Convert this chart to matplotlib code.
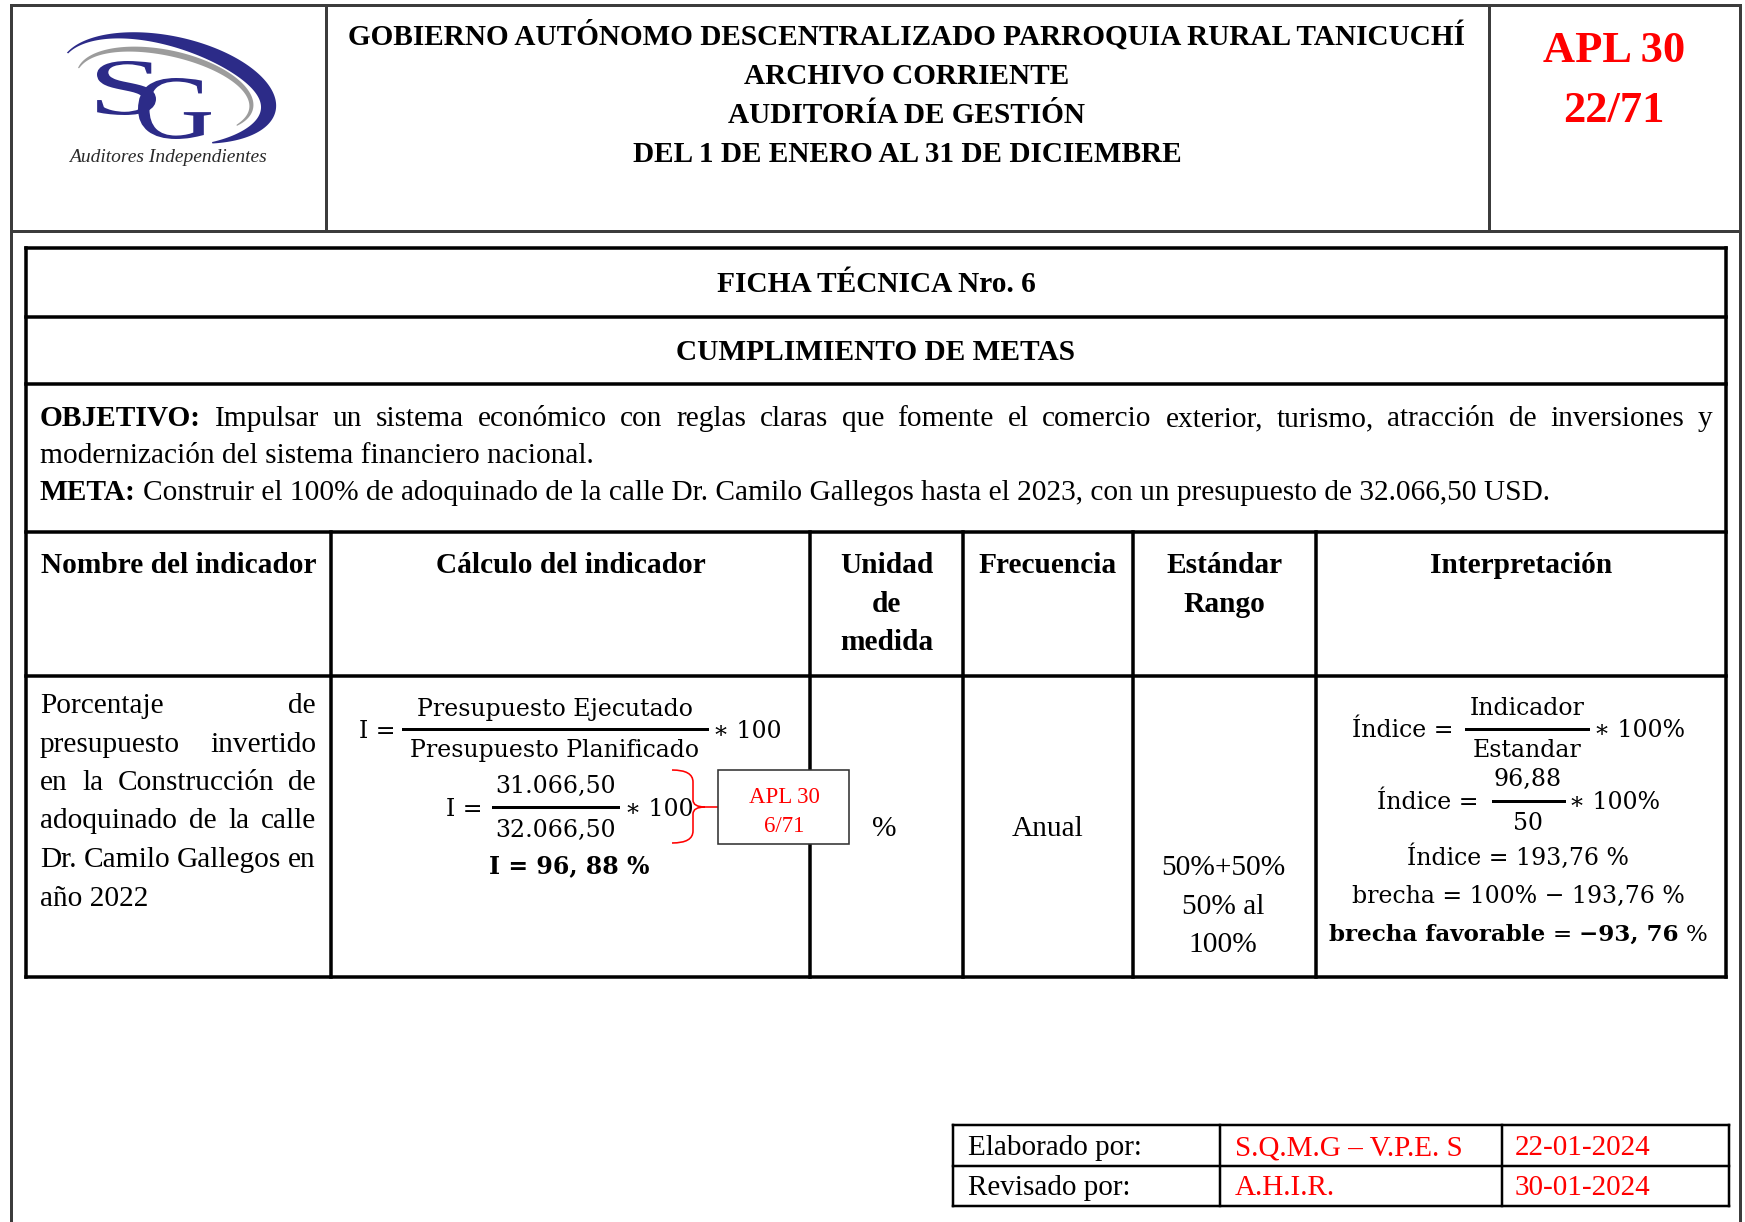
import numpy as np
import matplotlib
matplotlib.use("Agg")
import matplotlib.pyplot as plt
from matplotlib.patches import Polygon, Rectangle, PathPatch
from matplotlib.path import Path
from matplotlib.textpath import TextPath
from matplotlib.font_manager import FontProperties
from matplotlib.transforms import Affine2D

# ---- document content ----
header_lines = ["GOBIERNO AUTÓNOMO DESCENTRALIZADO PARROQUIA RURAL TANICUCHÍ",
                "ARCHIVO CORRIENTE",
                "AUDITORÍA DE GESTIÓN",
                "DEL 1 DE ENERO AL 31 DE DICIEMBRE"]
apl_ref = ["APL 30", "22/71"]
ficha_title = "FICHA TÉCNICA Nro. 6"
ficha_subtitle = "CUMPLIMIENTO DE METAS"
objetivo_label = "OBJETIVO:"
objetivo_lines = ["Impulsar un sistema económico con reglas claras que fomente el comercio exterior, turismo, atracción de inversiones y",
                  "modernización del sistema financiero nacional."]
meta_label = "META:"
meta_text = "Construir el 100% de adoquinado de la calle Dr. Camilo Gallegos hasta el 2023, con un presupuesto de 32.066,50 USD."
col_headers = [["Nombre del indicador"], ["Cálculo del indicador"], ["Unidad", "de", "medida"],
               ["Frecuencia"], ["Estándar", "Rango"], ["Interpretación"]]
indicator_lines = ["Porcentaje de", "presupuesto invertido", "en la Construcción de",
                   "adoquinado de la calle", "Dr. Camilo Gallegos en", "año 2022"]
formula_num = "Presupuesto Ejecutado"
formula_den = "Presupuesto Planificado"
presupuesto_ejecutado = "31.066,50"
presupuesto_planificado = "32.066,50"
indicador = "96,88"
unidad = "%"
frecuencia = "Anual"
estandar_lines = ["50%+50%", "50% al", "100%"]
estandar = "50"
indice = "193,76"
brecha = "93,76"
ref_box = ["APL 30", "6/71"]
footer_roles = ["Elaborado por:", "Revisado por:"]
footer_names = ["S.Q.M.G – V.P.E. S", "A.H.I.R."]
footer_dates = ["22-01-2024", "30-01-2024"]

SERIF = "Liberation Serif"
MATH = "DejaVu Serif"
RED = "#ff0000"
BLUE = "#2c2b88"
PX = 0.72  # points per pixel at dpi 100

W, H = 1745, 1222
fig = plt.figure(figsize=(W / 100, H / 100), dpi=100)
ax = fig.add_axes([0, 0, 1, 1])
ax.set_xlim(0, W)
ax.set_ylim(H, 0)
ax.axis("off")
renderer = fig.canvas.get_renderer()


def line(x0, y0, x1, y1, px=3.5, color="black", z=2):
    ax.plot([x0, x1], [y0, y1], color=color, lw=px * PX, solid_capstyle="projecting", zorder=z)


def text_w(s, size, weight="normal", family=SERIF):
    t = ax.text(0, 0, s, fontsize=size, fontweight=weight, family=family)
    w = t.get_window_extent(renderer=renderer).width
    t.remove()
    return w


def space_w(size, weight="normal", family=SERIF):
    return text_w("a a", size, weight, family) - text_w("aa", size, weight, family)


def put(x, y, s, size, weight="normal", family=SERIF, color="black", ha="center"):
    ax.text(x, y, s, fontsize=size, fontweight=weight, family=family, color=color,
            ha=ha, va="baseline", zorder=5)


def run(x, y, segs, size, family=SERIF, ha="left"):
    # segs: list of (text, weight, color); a single space is put between segments
    sp = space_w(size, family=family)
    widths = [text_w(s, size, wt, family) for s, wt, c in segs]
    total = sum(widths) + sp * (len(segs) - 1)
    if ha == "center":
        x = x - total / 2
    for (s, wt, c), w in zip(segs, widths):
        put(x, y, s, size, wt, family, c, ha="left")
        x += w + sp


def justify(x0, x1, y, words, size, family=SERIF):
    # words: list of (text, weight)
    widths = [text_w(s, size, wt, family) for s, wt in words]
    gap = (x1 - x0 - sum(widths)) / (len(words) - 1)
    x = x0
    for (s, wt), w in zip(words, widths):
        put(x, y, s, size, wt, family, ha="left")
        x += w + gap


# ---- outer frame ----
GRAY = "#3c3c3c"
line(11, 5, 11, H + 5, 3, GRAY)
line(1740, 5, 1740, H + 5, 3, GRAY)
line(11, 5, 1740, 5, 3, GRAY)
line(11, 231, 1740, 231, 3, GRAY)
line(326, 5, 326, 231, 3, GRAY)
line(1489, 5, 1489, 231, 3, GRAY)

# ---- logo ----
def ell(cx, cy, a, b, phi, t):
    xr, yr = a * np.cos(t), b * np.sin(t)
    x = cx + xr * np.cos(phi) - yr * np.sin(phi)
    v = xr * np.sin(phi) + yr * np.cos(phi)
    return x, cy - v


phi = np.radians(-12)
tdeg = np.linspace(165, -60, 200)
s = (165 - tdeg) / 225
wb = 1.5 + 15 * np.sin(np.pi * s ** 1.4)
t = np.radians(tdeg)
xo, yo = ell(168, 88, 110, 52, phi, t)
xi, yi = ell(168, 88, 110 - wb, 52 - wb, phi, t)
ax.add_patch(Polygon(np.column_stack([np.r_[xo, xi[::-1]], np.r_[yo, yi[::-1]]]),
                     closed=True, fc=BLUE, ec="none", zorder=3))
tdeg = np.linspace(175, -30, 200)
s = (175 - tdeg) / 205
wg = 1 + 5 * np.sin(np.pi * s) ** 0.7
t = np.radians(tdeg)
xo, yo = ell(165, 90, 90, 40, phi, t)
xi, yi = ell(165, 90, 90 - wg, 40 - wg, phi, t)
ax.add_patch(Polygon(np.column_stack([np.r_[xo, xi[::-1]], np.r_[yo, yi[::-1]]]),
                     closed=True, fc="#9c9c9c", ec="none", zorder=3))


def glyph(ch, x0, y0, x1, y1):
    p = TextPath((0, 0), ch, size=1, prop=FontProperties(family=SERIF))
    e = p.get_extents()
    tr = (Affine2D().translate(-e.x0, -e.y1)
          .scale((x1 - x0) / e.width, -(y1 - y0) / e.height).translate(x0, y0))
    ax.add_patch(PathPatch(tr.transform_path(p), fc=BLUE, ec="none", zorder=4))


glyph("S", 97, 61, 156, 115)
glyph("G", 138, 78, 211, 139)
ax.text(168, 162, "Auditores Independientes", fontsize=14, family=SERIF, style="italic",
        color="#2a2a2a", ha="center", va="baseline", zorder=5)

# ---- header text ----
for i, s in enumerate(header_lines):
    put(907, 45 + 39 * i, s, 21.1, "bold")
put(1614, 62, apl_ref[0], 32, "bold", color=RED)
put(1614, 122, apl_ref[1], 32, "bold", color=RED)

# ---- main table ----
col_x = [26, 331, 810, 963, 1133, 1316, 1726]
row_y = [248, 317, 384, 532, 676, 977]
for y in row_y:
    line(col_x[0], y, col_x[-1], y)
line(col_x[0], row_y[0], col_x[0], row_y[-1])
line(col_x[-1], row_y[0], col_x[-1], row_y[-1])
for x in col_x[1:-1]:
    line(x, row_y[3], x, row_y[-1])

BODY = 21.2
put(876, 292, ficha_title, BODY, "bold")
put(876, 360, ficha_subtitle, BODY, "bold")

words = [(objetivo_label, "bold")] + [(w, "normal") for w in objetivo_lines[0].split()]
justify(40, 1712, 426, words, BODY)
put(40, 463, objetivo_lines[1], BODY, ha="left")
run(40, 500, [(meta_label, "bold", "black"), (meta_text, "normal", "black")], BODY)

for j, lines in enumerate(col_headers):
    cx = (col_x[j] + col_x[j + 1]) / 2
    for i, s in enumerate(lines):
        put(cx, 573 + 38.5 * i, s, BODY, "bold")

for i, s in enumerate(indicator_lines):
    y = 713 + 38.5 * i
    if i < len(indicator_lines) - 1:
        justify(40, 316, y, [(w, "normal") for w in s.split()], BODY)
    else:
        put(40, y, s, BODY, ha="left")

# calculation formulas
MS = 17
put(396, 738, "I =", MS, family=MATH, ha="right")
line(403, 729, 707, 729, 3, z=4)
put(555, 716, formula_num, MS, family=MATH)
put(555, 757, formula_den, MS, family=MATH)
put(713, 738, "∗ 100", MS, family=MATH, ha="left")

put(483, 816, "I =", MS, family=MATH, ha="right")
line(493, 807, 618, 807, 3, z=4)
put(556, 793, presupuesto_ejecutado, MS, family=MATH)
put(556, 837, presupuesto_planificado, MS, family=MATH)
put(625, 816, "∗ 100", MS, family=MATH, ha="left")

put(569, 873, "I = " + indicador.replace(",", ", ") + " %", MS, "bold", family=MATH)

# red reference brace and box
verts = [(672, 770), (693, 770), (693, 782), (693, 800), (693, 807), (705, 807),
         (693, 807), (693, 814), (693, 831), (693, 843), (672, 843)]
codes = [Path.MOVETO, Path.CURVE3, Path.CURVE3, Path.LINETO, Path.CURVE3, Path.CURVE3,
         Path.CURVE3, Path.CURVE3, Path.LINETO, Path.CURVE3, Path.CURVE3]
ax.add_patch(PathPatch(Path(verts, codes), fc="none", ec=RED, lw=1.6 * PX, zorder=6))
line(705, 807, 718, 807, 1.6, RED, z=6)
ax.add_patch(Rectangle((718, 770), 131, 74, fc="white", ec="#333333", lw=1.6 * PX, zorder=6))
ax.text(784, 803, ref_box[0], fontsize=16.5, family=SERIF, color=RED, ha="center", va="baseline", zorder=7)
ax.text(784, 832, ref_box[1], fontsize=16.5, family=SERIF, color=RED, ha="center", va="baseline", zorder=7)

put(884, 836, unidad, BODY)
put(1048, 836, frecuencia, BODY)
for i, s in enumerate(estandar_lines):
    put(1223, 875 + 38.5 * i, s, BODY)

# interpretation
put(1454, 737, "Índice =", MS, family=MATH, ha="right")
line(1466, 729, 1588, 729, 3, z=4)
put(1527, 715, "Indicador", MS, family=MATH)
put(1527, 757, "Estandar", MS, family=MATH)
put(1594, 737, "∗ 100%", MS, family=MATH, ha="left")

put(1479, 809, "Índice =", MS, family=MATH, ha="right")
line(1493, 801, 1564, 801, 3, z=4)
put(1528, 786, indicador, MS, family=MATH)
put(1528, 830, estandar, MS, family=MATH)
put(1569, 809, "∗ 100%", MS, family=MATH, ha="left")

put(1518, 865, "Índice = " + indice + " %", MS, family=MATH)
put(1518, 903, "brecha = 100% − " + indice + " %", MS, family=MATH)
run(1518, 941, [("brecha favorable", "bold", "black"), ("=", "normal", "black"),
                ("−" + brecha.replace(",", ", "), "bold", "black"), ("%", "normal", "black")],
    16.6, family=MATH, ha="center")

# ---- footer sign-off table ----
fx = [953, 1220, 1502, 1729]
fy = [1125, 1166, 1206]
for y in fy:
    line(fx[0], y, fx[-1], y, 2.5)
for x in fx:
    line(x, fy[0], x, fy[-1], 2.5)
for i in range(2):
    bl = 1155 + 40 * i
    put(968, bl, footer_roles[i], 21, ha="left")
    put(1235, bl, footer_names[i], 21, color=RED, ha="left")
    put(1515, bl, footer_dates[i], 21, color=RED, ha="left")

fig.savefig("out.png", dpi=100, facecolor="white")
